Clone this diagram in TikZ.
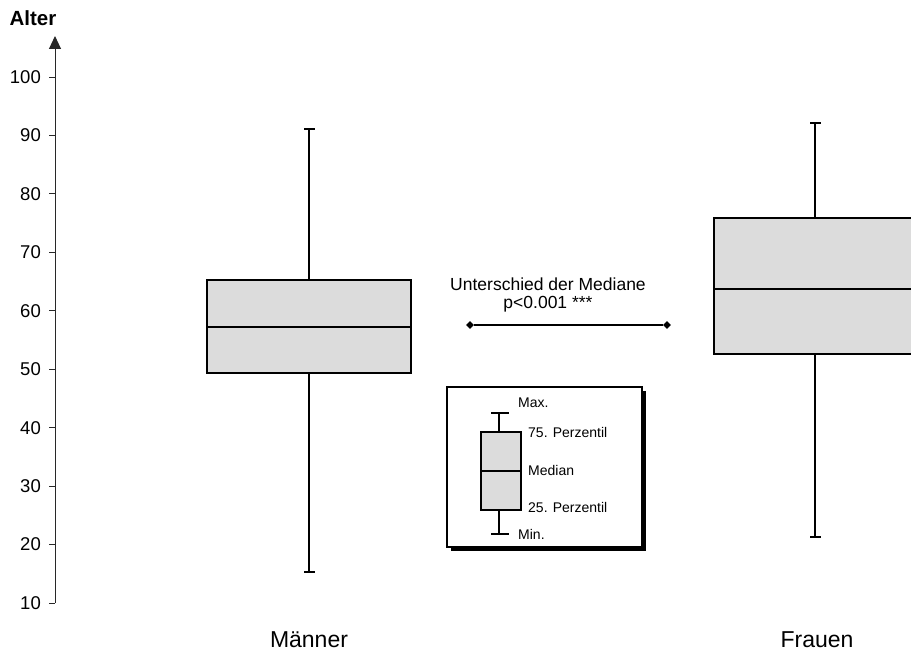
\documentclass[tikz,border=0pt]{standalone}
\usepackage{fontspec}
\setmainfont{Liberation Sans}
\usetikzlibrary{arrows.meta,shapes.geometric}
\definecolor{boxgray}{RGB}{220,220,220}
\definecolor{axisgray}{RGB}{40,40,40}
\begin{document}
\begin{tikzpicture}[x=1pt,y=-1pt,
  bplot/.style={fill=boxgray,draw=black,line width=1.3pt},
  whisk/.style={draw=black,line width=1.2pt},
  ticklab/.style={anchor=east,inner sep=0pt,font=\fontsize{18.5}{19}\selectfont},
  axtick/.style={draw=axisgray,line width=1pt},
  leglab/.style={anchor=west,inner sep=0pt,font=\fontsize{14}{15}\selectfont},
  grp/.style={inner sep=0pt,font=\fontsize{23}{24}\selectfont},
  dmark/.style={diamond,fill=black,inner sep=0pt,minimum size=8pt},
]
\useasboundingbox (0,0) rectangle (911,652);
\fill[white] (0,0) rectangle (911,652);

% axis
\coordinate (axbot) at (55,603);
\coordinate (axtop) at (55,36);
\draw[axtick,-{Triangle[width=12pt,length=13pt]}] (axbot) -- (axtop);
\node[inner sep=0pt,font=\fontsize{20.5}{21}\selectfont\bfseries] (alter) at (33,18) {Alter};
\foreach \v in {10,20,...,100}{
  \pgfmathsetmacro{\yy}{603-(\v-10)*5.844}
  \draw[axtick] (49,\yy) -- (55,\yy);
  \node[ticklab] (t\v) at (41,\yy) {\v};
}

% Maenner box plot
\draw[whisk] (309,129) -- (309,280);
\draw[whisk] (309,373) -- (309,572);
\draw[whisk] (304,129) -- (315,129);
\draw[whisk] (304,572) -- (315,572);
\draw[bplot] (207,280) rectangle (411,373);
\draw[whisk] (207,327) -- (411,327);

% Frauen box plot
\draw[whisk] (815,123) -- (815,218);
\draw[whisk] (815,354) -- (815,537);
\draw[whisk] (810,123) -- (821,123);
\draw[whisk] (810,537) -- (821,537);
\fill[boxgray] (714,218) rectangle (911,354);
\draw[line width=1.3pt] (912,218) -- (714,218) -- (714,354) -- (912,354);
\draw[whisk] (714,289) -- (912,289);

% group labels
\node[grp] (m) at (309,640) {Männer};
\node[grp] (f) at (817,640) {Frauen};

% median difference
\node[inner sep=0pt,font=\fontsize{17.5}{18}\selectfont] (ut) at (548,284) {Unterschied der Mediane};
\node[inner sep=0pt,font=\fontsize{17.5}{18}\selectfont] (pv) at (548,304) {p<0.001 ***};
\node[dmark] (dl) at (470,325) {};
\node[dmark] (dr) at (667,325) {};
\draw[line width=1.2pt] (dl) -- (dr);

% legend
\fill[black] (451,391) rectangle (646,551);
\draw[fill=white,line width=1.2pt] (447,387) rectangle (642,547);
\draw[whisk] (499,413) -- (499,432);
\draw[whisk] (499,510) -- (499,534);
\draw[whisk] (491,413) -- (509,413);
\draw[whisk] (491,534) -- (509,534);
\draw[bplot,line width=1.1pt] (481,432) rectangle (521,510);
\draw[whisk,line width=1.1pt] (481,471) -- (521,471);
\node[leglab] (lmax) at (518,403) {Max.};
\node[leglab] (lq3) at (528,432) {75. Perzentil};
\node[leglab] (lmed) at (528,470) {Median};
\node[leglab] (lq1) at (528,507) {25. Perzentil};
\node[leglab] (lmin) at (518,534) {Min.};
\end{tikzpicture}
\end{document}
